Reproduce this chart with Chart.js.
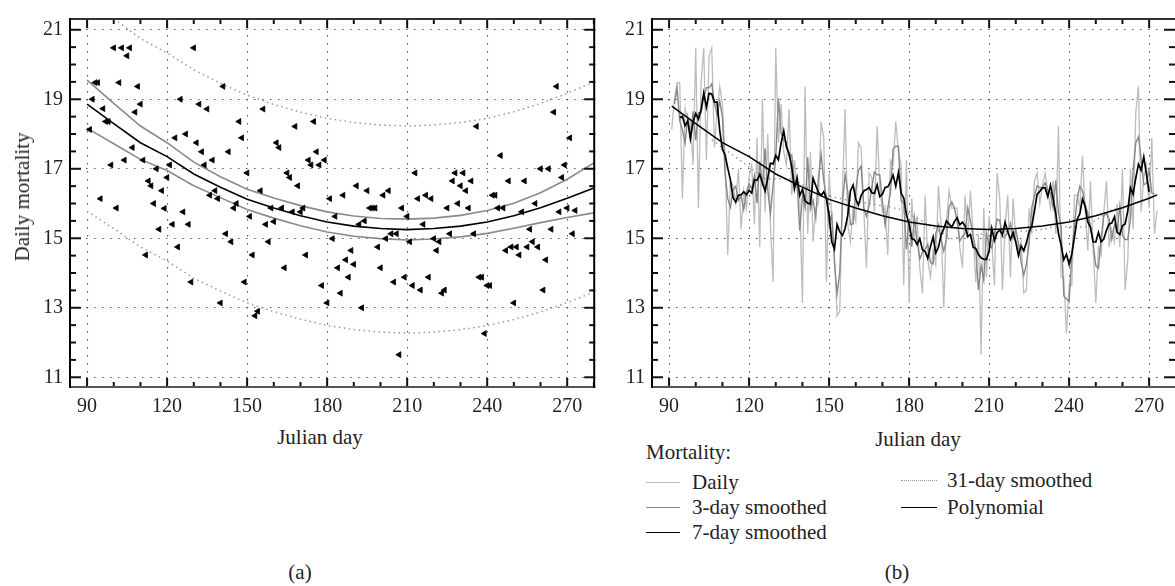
<!DOCTYPE html>
<html>
<head>
<meta charset="utf-8">
<script src="https://cdn.jsdelivr.net/npm/chart.js@4.4.0/dist/chart.umd.min.js"></script>
<style>
  body { margin: 0; background: #fff; width: 1175px; height: 586px; position: relative; overflow: hidden; }
  canvas { position: absolute; top: 0; }
  #chartA { left: 0; }
  #chartB { left: 600px; }
  .txt { position: absolute; font: 21px 'Liberation Serif', serif; color: #222; line-height: 24px; white-space: nowrap; }
  .smp { position: absolute; height: 0; }
</style>
</head>
<body>
<canvas id="chartA" width="600" height="425"></canvas>
<canvas id="chartB" width="575" height="425"></canvas>

<div class="txt" style="left:22px;top:197px;transform:translate(-50%,-50%) rotate(-90deg);">Daily mortality</div>
<div class="txt" style="left:320px;top:425px;transform:translateX(-50%);">Julian day</div>
<div class="txt" style="left:918px;top:427px;transform:translateX(-50%);">Julian day</div>

<div class="txt" style="left:646px;top:440px;">Mortality:</div>
<div class="smp" style="left:646px;top:482px;width:34px;border-top:1.5px solid #bbb;"></div>
<div class="txt" style="left:692px;top:470px;">Daily</div>
<div class="smp" style="left:646px;top:507px;width:34px;border-top:1.5px solid #888;"></div>
<div class="txt" style="left:692px;top:495px;">3-day smoothed</div>
<div class="smp" style="left:646px;top:532px;width:34px;border-top:1.5px solid #000;"></div>
<div class="txt" style="left:692px;top:520px;">7-day smoothed</div>
<div class="smp" style="left:901px;top:480px;width:36px;border-top:1.5px dotted #999;"></div>
<div class="txt" style="left:947px;top:468px;">31-day smoothed</div>
<div class="smp" style="left:901px;top:507px;width:36px;border-top:1.5px solid #000;"></div>
<div class="txt" style="left:947px;top:495px;">Polynomial</div>

<div class="txt" style="left:300px;top:560px;transform:translateX(-50%);">(a)</div>
<div class="txt" style="left:897px;top:560px;transform:translateX(-50%);">(b)</div>

<script>
// axis ticks
const xTicks = [90, 120, 150, 180, 210, 240, 270];
const xMinorTicks = [90, 100, 110, 120, 130, 140, 150, 160, 170, 180, 190, 200, 210, 220, 230, 240, 250, 260, 270, 280];
const yTicks = [11, 13, 15, 17, 19, 21];
const yMinorTicks = [11, 11.5, 12, 12.5, 13, 13.5, 14, 14.5, 15, 15.5, 16, 16.5, 17, 17.5, 18, 18.5, 19, 19.5, 20, 20.5, 21];

// daily mortality, Julian days 91..273
const days = [
  91, 92, 93, 94, 95, 96, 97, 98, 99, 100, 101, 102, 103, 104, 105, 106, 107, 108, 109, 110,
  111, 112, 113, 114, 115, 116, 117, 118, 119, 120, 121, 122, 123, 124, 125, 126, 127, 128, 129, 130,
  131, 132, 133, 134, 135, 136, 137, 138, 139, 140, 141, 142, 143, 144, 145, 146, 147, 148, 149, 150,
  151, 152, 153, 154, 155, 156, 157, 158, 159, 160, 161, 162, 163, 164, 165, 166, 167, 168, 169, 170,
  171, 172, 173, 174, 175, 176, 177, 178, 179, 180, 181, 182, 183, 184, 185, 186, 187, 188, 189, 190,
  191, 192, 193, 194, 195, 196, 197, 198, 199, 200, 201, 202, 203, 204, 205, 206, 207, 208, 209, 210,
  211, 212, 213, 214, 215, 216, 217, 218, 219, 220, 221, 222, 223, 224, 225, 226, 227, 228, 229, 230,
  231, 232, 233, 234, 235, 236, 237, 238, 239, 240, 241, 242, 243, 244, 245, 246, 247, 248, 249, 250,
  251, 252, 253, 254, 255, 256, 257, 258, 259, 260, 261, 262, 263, 264, 265, 266, 267, 268, 269, 270,
  271, 272, 273
];
const dailyDeaths = [
  18.13, 19.00, 19.48, 19.48, 16.14, 18.73, 18.36, 18.36, 17.11, 20.48,
  15.87, 19.48, 20.48, 17.25, 20.25, 20.48, 17.61, 18.63, 19.37, 18.86,
  17.25, 14.52, 16.65, 16.51, 16.00, 17.00, 15.26, 16.37, 15.86, 16.75,
  17.11, 15.40, 17.89, 14.75, 19.00, 15.76, 18.00, 15.40, 13.74, 20.48,
  17.75, 18.86, 17.49, 17.11, 18.72, 16.24, 17.25, 16.37, 16.14, 13.14,
  19.37, 15.13, 17.49, 14.90, 15.87, 16.00, 18.36, 17.89, 13.74, 16.88,
  15.63, 14.52, 12.77, 12.90, 16.37, 18.72, 15.40, 14.90, 15.87, 15.48,
  17.75, 17.61, 15.87, 14.15, 16.88, 16.75, 15.76, 18.22, 16.51, 15.76,
  15.87, 14.52, 17.25, 17.11, 18.36, 17.49, 17.11, 13.64, 17.25, 13.14,
  16.14, 14.99, 15.63, 14.15, 13.42, 16.24, 14.38, 13.88, 14.65, 14.25,
  16.51, 15.40, 13.00, 15.50, 16.37, 15.87, 15.87, 15.87, 14.75, 14.15,
  16.24, 14.99, 16.37, 15.13, 13.74, 15.13, 11.65, 15.87, 13.88, 15.63,
  14.90, 13.64, 16.88, 16.14, 13.51, 15.40, 16.24, 13.88, 16.14, 14.99,
  14.65, 14.90, 13.42, 13.51, 15.87, 15.13, 16.65, 16.88, 16.00, 16.51,
  16.88, 16.37, 15.87, 16.65, 15.13, 18.22, 13.88, 13.88, 12.26, 13.64,
  13.64, 16.24, 16.24, 15.87, 17.38, 15.87, 14.65, 16.65, 14.75, 13.14,
  14.75, 14.52, 15.76, 16.65, 14.75, 15.26, 14.90, 16.00, 14.75, 17.00,
  13.51, 14.38, 17.00, 15.26, 18.63, 19.37, 15.76, 16.75, 17.11, 15.87,
  17.89, 15.13, 15.80
];

// 3-day smoothed, days 92..272
const threeDay = [
  18.87, 19.32, 18.37, 18.12, 17.74, 18.48, 17.94, 18.65, 17.82, 18.61,
  18.61, 19.07, 19.33, 19.33, 19.45, 18.91, 18.54, 18.95, 18.49, 16.88,
  16.14, 15.89, 16.39, 16.50, 16.09, 16.21, 15.83, 16.33, 16.57, 16.42,
  16.80, 16.01, 17.21, 16.50, 17.59, 16.39, 15.71, 16.54, 17.32, 19.03,
  18.03, 17.82, 17.77, 17.36, 17.40, 16.62, 16.59, 15.22, 16.22, 15.88,
  17.33, 15.84, 16.09, 15.59, 16.74, 17.42, 16.66, 16.17, 15.42, 15.68,
  14.31, 13.40, 14.01, 16.00, 16.83, 16.34, 15.39, 15.42, 16.37, 16.95,
  17.08, 15.88, 15.63, 15.93, 16.46, 16.91, 16.83, 16.83, 16.05, 15.38,
  15.88, 16.29, 17.57, 17.65, 17.65, 16.08, 16.00, 14.68, 15.51, 14.76,
  15.59, 14.92, 14.40, 14.60, 14.68, 14.83, 14.30, 14.26, 15.14, 15.39,
  14.97, 14.63, 14.96, 15.91, 16.04, 15.87, 15.50, 14.92, 15.05, 15.13,
  15.87, 15.50, 15.08, 14.67, 13.51, 14.22, 13.80, 15.13, 14.80, 14.72,
  15.14, 15.55, 15.51, 15.02, 15.05, 15.17, 15.42, 15.00, 15.26, 14.85,
  14.32, 13.94, 14.27, 14.84, 15.88, 16.22, 16.51, 16.46, 16.46, 16.59,
  16.37, 16.30, 15.88, 16.67, 15.74, 15.33, 13.34, 13.26, 13.18, 14.51,
  15.37, 16.12, 16.50, 16.37, 15.97, 15.72, 15.35, 14.85, 14.21, 14.14,
  15.01, 15.64, 15.72, 15.55, 14.97, 15.39, 15.22, 15.92, 15.09, 14.96,
  14.96, 15.55, 16.96, 17.75, 17.92, 17.29, 16.54, 16.58, 16.96, 16.30,
  16.27
];

// 7-day smoothed, days 94..270
const sevenDay = [
  18.47, 18.51, 18.24, 18.38, 17.86, 18.34, 18.59, 18.43, 18.70, 19.18,
  18.77, 19.17, 19.15, 18.92, 18.92, 18.10, 17.56, 17.40, 17.02, 16.68,
  16.17, 16.04, 16.24, 16.25, 16.34, 16.25, 16.38, 16.30, 16.68, 16.67,
  16.84, 16.60, 16.36, 16.73, 17.16, 17.14, 17.39, 17.26, 17.74, 18.09,
  17.63, 17.43, 17.05, 16.42, 16.75, 16.23, 16.41, 16.08, 16.01, 15.99,
  16.73, 16.52, 16.32, 16.23, 16.34, 16.15, 15.68, 14.90, 14.69, 15.40,
  15.19, 15.08, 15.28, 15.66, 16.36, 16.53, 16.13, 15.95, 16.23, 16.36,
  16.40, 16.46, 16.31, 16.29, 16.54, 16.20, 16.27, 16.46, 16.48, 16.62,
  16.82, 16.50, 16.89, 16.30, 16.16, 15.68, 15.41, 14.99, 14.96, 14.82,
  14.99, 14.67, 14.62, 14.42, 14.76, 15.04, 14.58, 14.74, 15.10, 15.27,
  15.50, 15.41, 15.32, 15.48, 15.59, 15.39, 15.46, 15.36, 15.05, 15.11,
  14.75, 14.70, 14.54, 14.43, 14.40, 14.39, 14.64, 15.28, 14.94, 15.16,
  15.24, 15.10, 15.46, 15.19, 14.97, 15.17, 14.89, 14.50, 14.78, 14.64,
  14.88, 15.19, 15.35, 15.79, 16.27, 16.35, 16.45, 16.45, 16.20, 16.52,
  16.14, 15.71, 15.13, 14.81, 14.38, 14.54, 14.25, 14.54, 15.04, 15.55,
  15.70, 16.13, 15.92, 15.47, 15.31, 14.90, 14.89, 15.17, 14.90, 14.98,
  15.23, 15.41, 15.44, 15.62, 15.17, 15.11, 15.36, 15.41, 15.79, 16.45,
  16.27, 16.74, 17.13, 16.96, 17.34, 16.84, 16.33
];

// 31-day smoothed
const monthDays = [106, 116, 126, 136, 146, 156, 166, 176, 186, 196, 206, 216, 226, 236, 246, 256, 258];
const monthMean = [17.83, 17.28, 16.71, 16.71, 16.29, 16.11, 15.99, 15.85, 15.45, 14.99, 15.11, 15.19, 15.21, 15.34, 15.32, 15.82, 15.85];

// polynomial fit with confidence and prediction bands (panel a)
const fitDays = [90, 100, 110, 120, 130, 140, 150, 160, 170, 180, 190, 200, 210, 220, 230, 240, 250, 260, 270, 280];
const fitValues = [18.86, 18.30, 17.75, 17.35, 16.85, 16.47, 16.12, 15.87, 15.65, 15.47, 15.35, 15.28, 15.25, 15.28, 15.35, 15.47, 15.65, 15.88, 16.15, 16.45];
const confUpper = [19.55, 18.88, 18.23, 17.75, 17.19, 16.77, 16.41, 16.16, 15.94, 15.76, 15.64, 15.57, 15.55, 15.58, 15.66, 15.80, 16.01, 16.31, 16.70, 17.17];
const confLower = [18.17, 17.72, 17.27, 16.95, 16.51, 16.17, 15.83, 15.58, 15.36, 15.18, 15.06, 14.99, 14.95, 14.98, 15.04, 15.14, 15.29, 15.45, 15.60, 15.73];
const predUpper = [21.96, 21.33, 20.75, 20.33, 19.85, 19.46, 19.12, 18.85, 18.63, 18.45, 18.33, 18.26, 18.23, 18.26, 18.33, 18.45, 18.64, 18.88, 19.17, 19.50];
const predLower = [15.78, 15.28, 14.75, 14.35, 13.85, 13.48, 13.14, 12.89, 12.67, 12.49, 12.37, 12.30, 12.27, 12.30, 12.37, 12.49, 12.66, 12.88, 13.15, 13.45];

// polynomial over the observed span (panel b)
const fitDaysB = [91, 100, 110, 120, 130, 140, 150, 160, 170, 180, 190, 200, 210, 220, 230, 240, 250, 260, 270, 273];
const fitValuesB = [18.80, 18.30, 17.75, 17.35, 16.85, 16.47, 16.12, 15.87, 15.65, 15.47, 15.35, 15.28, 15.25, 15.28, 15.35, 15.47, 15.65, 15.88, 16.15, 16.25];

const pts = (xs, ys) => xs.map((x, i) => ({ x, y: ys[i] }));

Chart.defaults.font.family = "'Liberation Serif', serif";
Chart.defaults.font.size = 20;
Chart.defaults.color = '#222';

const frame = {
  id: 'frame',
  afterDraw(chart, args, opts) {
    const { ctx, chartArea: a, scales: { x, y } } = chart;
    const seg = (x1, y1, x2, y2) => { ctx.beginPath(); ctx.moveTo(x1, y1); ctx.lineTo(x2, y2); ctx.stroke(); };
    ctx.save();
    ctx.strokeStyle = '#111';
    ctx.lineWidth = 2;
    xMinorTicks.forEach(v => {
      const p = x.getPixelForValue(v);
      if (p > a.right - 1) return;
      const len = xTicks.includes(v) ? 9 : 5;
      seg(p, a.top, p, a.top + len);
      seg(p, a.bottom, p, a.bottom - len);
    });
    yMinorTicks.forEach(v => {
      const p = y.getPixelForValue(v);
      const len = yTicks.includes(v) ? 11 : 6;
      seg(a.left, p, a.left + len, p);
      seg(a.right, p, a.right - len, p);
    });
    ctx.strokeStyle = '#333';
    seg(a.left, a.top, a.right, a.top);
    ctx.strokeStyle = '#555';
    seg(a.left, a.bottom, a.right, a.bottom);
    ctx.strokeStyle = '#000';
    seg(a.left, a.top - 1, a.left, a.bottom + 1);
    if (opts.rightLine) seg(a.right - 1, a.top - 1, a.right - 1, a.bottom + 1);
    ctx.restore();
  }
};

function scalesFor(xMax, yWidth) {
  return {
    x: {
      type: 'linear', min: 83.6, max: xMax,
      afterBuildTicks: s => { s.ticks = xTicks.map(v => ({ value: v })); },
      afterFit: s => { s.height = 38; },
      grid: { color: '#555', lineWidth: 1.1, drawTicks: false },
      border: { display: false, dash: [1.5, 6.5] },
      ticks: { padding: 8, maxRotation: 0, autoSkip: false }
    },
    y: {
      type: 'linear', min: 10.72, max: 21.31,
      afterBuildTicks: s => { s.ticks = yTicks.map(v => ({ value: v })); },
      afterFit: s => { s.width = yWidth; },
      grid: { color: '#555', lineWidth: 1.1, drawTicks: false },
      border: { display: false, dash: [1.5, 6.5] },
      ticks: { padding: 7 }
    }
  };
}

const lineDs = (label, data, color, width, dash) => ({
  label, data, borderColor: color, borderWidth: width, borderDash: dash || [],
  pointRadius: 0, fill: false, tension: 0
});

new Chart(document.getElementById('chartA'), {
  type: 'line',
  data: {
    datasets: [
      {
        label: 'Daily', data: pts(days, dailyDeaths), showLine: false,
        pointStyle: 'triangle', rotation: 270, pointRadius: 3.4,
        pointBackgroundColor: '#000', pointBorderColor: '#000', pointBorderWidth: 0.8
      },
      lineDs('Polynomial', pts(fitDays, fitValues), '#000', 1.6),
      lineDs('Upper 95% CI', pts(fitDays, confUpper), '#8a8a8a', 1.6),
      lineDs('Lower 95% CI', pts(fitDays, confLower), '#8a8a8a', 1.6),
      lineDs('Upper prediction', pts(fitDays, predUpper), '#999', 1.5, [1.5, 3.5]),
      lineDs('Lower prediction', pts(fitDays, predLower), '#999', 1.5, [1.5, 3.5])
    ]
  },
  options: {
    responsive: false, animation: false, devicePixelRatio: 1,
    layout: { padding: { top: 7, left: 0, right: 4, bottom: 0 } },
    scales: scalesFor(280.5, 70),
    plugins: { legend: { display: false }, tooltip: { enabled: false }, frame: { rightLine: true } }
  },
  plugins: [frame]
});

new Chart(document.getElementById('chartB'), {
  type: 'line',
  data: {
    datasets: [
      lineDs('Polynomial', pts(fitDaysB, fitValuesB), '#000', 1.5),
      lineDs('7-day smoothed', pts(days.slice(3, -3), sevenDay), '#000', 1.7),
      lineDs('31-day smoothed', pts(monthDays, monthMean), '#999', 1.5, [1.5, 3.5]),
      lineDs('3-day smoothed', pts(days.slice(1, -1), threeDay), '#888', 1.4),
      lineDs('Daily', pts(days, dailyDeaths), '#bdbdbd', 1.3)
    ]
  },
  options: {
    responsive: false, animation: false, devicePixelRatio: 1,
    layout: { padding: { top: 7, left: 0, right: 0, bottom: 0 } },
    scales: scalesFor(279.7, 52),
    plugins: { legend: { display: false }, tooltip: { enabled: false }, frame: { rightLine: false } }
  },
  plugins: [frame]
});
</script>
</body>
</html>
